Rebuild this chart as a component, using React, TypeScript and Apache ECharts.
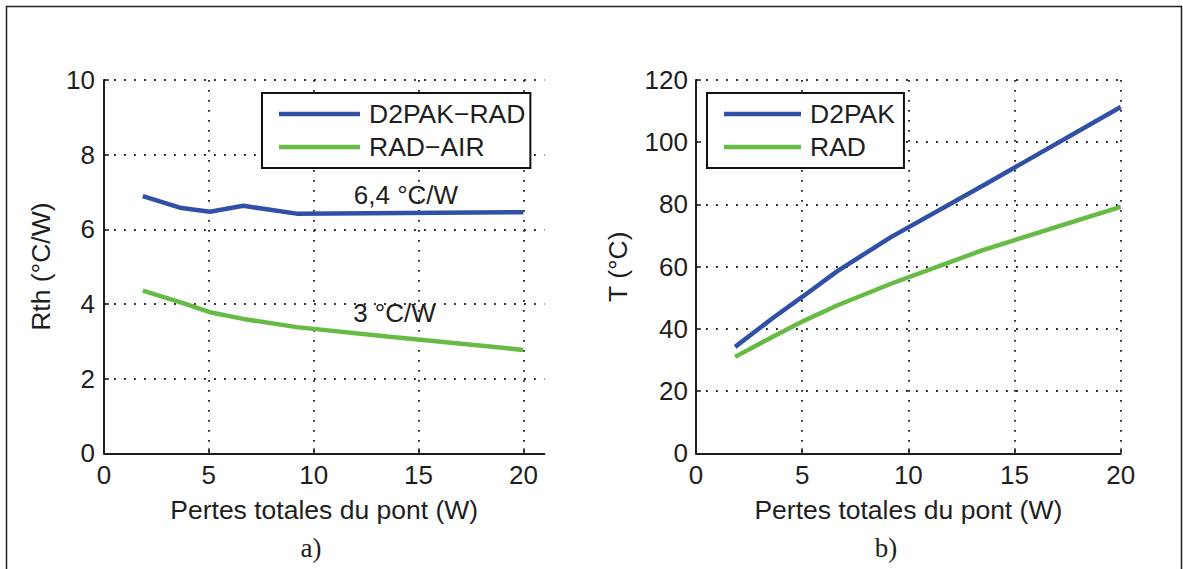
import React, { useEffect, useRef } from "react";
import * as echarts from "echarts";

// Left panel (a): thermal resistances vs bridge losses
const lossA = [1.85, 3.62, 5.05, 6.64, 9.18, 20];
const rthD2pakRad = [6.89, 6.58, 6.47, 6.63, 6.42, 6.46];
const lossAirA = [1.85, 3.62, 5.05, 6.64, 9.18, 13.5, 20];
const rthRadAir = [4.36, 4.05, 3.78, 3.6, 3.38, 3.13, 2.77];

// Right panel (b): temperatures vs bridge losses
const lossB = [1.84, 3.62, 5.05, 6.64, 9.18, 13.5, 20];
const tD2pak = [34.2, 43.5, 50.5, 58.5, 69.5, 86, 111.3];
const tRad = [31, 37.5, 42.5, 47.5, 54.5, 65.3, 79.2];

const xTicks = [0, 5, 10, 15, 20];
const names = ["D2PAK\u2212RAD", "RAD\u2212AIR", "D2PAK", "RAD"];
const annotations = [
  { text: "6,4 °C/W", x: 14.4, y: 6.92 },
  { text: "3 °C/W", x: 13.85, y: 3.76 },
];

const BLUE = "#3050a8";
const GREEN = "#66bb44";
const INK = "#1e1e1e";
const FONT = '"Liberation Sans", Arial, Helvetica, sans-serif';

function zip(xs: number[], ys: number[]) {
  return xs.map((x, i) => [x, ys[i]]);
}

export default function App() {
  const ref = useRef<HTMLDivElement>(null);
  useEffect(() => {
    if (!ref.current) return;
    const chart = echarts.init(ref.current, undefined, { renderer: "svg" });

    const gridLine = {
      show: true,
      lineStyle: { color: "#222", width: 1.8, type: [1.8, 8.2] as any },
    };
    const axisLine = { show: true, onZero: false, lineStyle: { color: INK, width: 2 } };
    const axisTick = { show: true, inside: true, length: 5, lineStyle: { color: INK, width: 1.5 } };
    const labelStyle = { color: INK, fontSize: 26, fontFamily: FONT };
    const nameStyle = { color: INK, fontSize: 26.5, fontFamily: FONT };

    const xAxisBase = (gi: number, max: number) => ({
      type: "value",
      gridIndex: gi,
      min: 0,
      max,
      interval: 5,
      name: "Pertes totales du pont (W)",
      nameLocation: "middle",
      nameGap: 43,
      nameTextStyle: nameStyle,
      axisLine,
      axisTick: { ...axisTick, customValues: xTicks },
      axisLabel: { ...labelStyle, margin: 9, customValues: xTicks },
      splitLine: gridLine,
    });

    const legendBase = {
      orient: "vertical",
      top: 93,
      icon: "rect",
      itemHeight: 4.5,
      itemGap: 5,
      backgroundColor: "#fff",
      borderColor: "#111",
      borderWidth: 2,
      borderRadius: 0,
      selectedMode: false,
      textStyle: { color: INK, fontSize: 26.5, fontFamily: FONT, lineHeight: 28, padding: [0, 0, 0, 4] },
    };

    chart.setOption({
      animation: false,
      backgroundColor: "#fff",
      grid: [
        { left: 104, top: 80, width: 440.4, height: 373.3 },
        { left: 696, top: 80, width: 424.7, height: 373.3 },
      ],
      xAxis: [xAxisBase(0, 21), xAxisBase(1, 20)],
      yAxis: [
        {
          type: "value",
          gridIndex: 0,
          min: 0,
          max: 10,
          interval: 2,
          name: "Rth (°C/W)",
          nameLocation: "middle",
          nameGap: 50,
          nameTextStyle: nameStyle,
          axisLine,
          axisTick,
          axisLabel: { ...labelStyle, margin: 9 },
          splitLine: gridLine,
        },
        {
          type: "value",
          gridIndex: 1,
          min: 0,
          max: 120,
          interval: 20,
          name: "T (°C)",
          nameLocation: "middle",
          nameGap: 65,
          nameTextStyle: nameStyle,
          axisLine,
          axisTick,
          axisLabel: { ...labelStyle, margin: 8 },
          splitLine: gridLine,
        },
      ],
      legend: [
        { ...legendBase, left: 262, itemWidth: 81, padding: [7, 5, 7, 17], data: [names[0], names[1]] },
        { ...legendBase, left: 707, itemWidth: 77, padding: [7, 9, 7, 17], data: [names[2], names[3]] },
      ],
      series: [
        {
          name: names[0],
          type: "line",
          xAxisIndex: 0,
          yAxisIndex: 0,
          data: zip(lossA, rthD2pakRad),
          symbol: "none",
          lineStyle: { color: BLUE, width: 4.5 },
          itemStyle: { color: BLUE },
          silent: true,
          z: 3,
          markPoint: {
            symbol: "circle",
            symbolSize: 1,
            itemStyle: { color: "rgba(0,0,0,0)" },
            label: { show: true, position: "inside", color: INK, fontSize: 26, fontFamily: FONT },
            data: annotations.map((a) => ({ coord: [a.x, a.y], value: a.text, label: { formatter: a.text } })),
          },
        },
        {
          name: names[1],
          type: "line",
          xAxisIndex: 0,
          yAxisIndex: 0,
          data: zip(lossAirA, rthRadAir),
          symbol: "none",
          lineStyle: { color: GREEN, width: 4.5 },
          itemStyle: { color: GREEN },
          silent: true,
          z: 3,
        },
        {
          name: names[2],
          type: "line",
          xAxisIndex: 1,
          yAxisIndex: 1,
          data: zip(lossB, tD2pak),
          symbol: "none",
          lineStyle: { color: BLUE, width: 4.5 },
          itemStyle: { color: BLUE },
          silent: true,
          z: 3,
        },
        {
          name: names[3],
          type: "line",
          xAxisIndex: 1,
          yAxisIndex: 1,
          data: zip(lossB, tRad),
          symbol: "none",
          lineStyle: { color: GREEN, width: 4.5 },
          itemStyle: { color: GREEN },
          silent: true,
          z: 3,
        },
      ],
      graphic: [
        {
          type: "rect",
          silent: true,
          z: -1,
          shape: { x: 6.5, y: 6.5, width: 1175, height: 600 },
          style: { fill: "none", stroke: INK, lineWidth: 1.5 },
        },
        {
          type: "text",
          x: 311,
          y: 548,
          silent: true,
          style: {
            text: "a)",
            font: '27px "Liberation Serif", "Times New Roman", serif',
            fill: INK,
            align: "center",
            verticalAlign: "middle",
            textAlign: "center",
            textVerticalAlign: "middle",
          },
        },
        {
          type: "text",
          x: 886,
          y: 548,
          silent: true,
          style: {
            text: "b)",
            font: '27px "Liberation Serif", "Times New Roman", serif',
            fill: INK,
            align: "center",
            verticalAlign: "middle",
            textAlign: "center",
            textVerticalAlign: "middle",
          },
        },
      ],
    });
    return () => chart.dispose();
  }, []);

  return (
    <div
      ref={ref}
      style={{ position: "fixed", left: 0, top: 0, width: 1183, height: 569, background: "#fff" }}
    />
  );
}
